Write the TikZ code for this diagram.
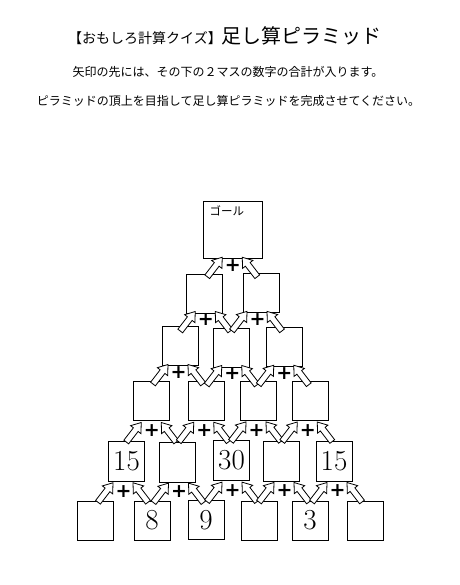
\documentclass[tikz,border=0pt]{standalone}
\usepackage{fontspec}
\usetikzlibrary{calc}
\newfontfamily\jp{Noto Sans CJK JP}
\newfontfamily\plusfont{DejaVu Sans}
\tikzset{
  box/.style={draw, line width=1pt, inner sep=0pt, minimum width=36pt, minimum height=39pt, fill=white},
  goalbox/.style={box, minimum width=59pt, minimum height=57pt},
  plusmark/.style={inner sep=0pt, font=\plusfont\bfseries\fontsize{19}{19}\selectfont},
  arr/.style={draw, line width=0.8pt, fill=white, line join=miter},
  num/.style={font=\fontsize{29}{29}\selectfont},
  jptext/.style={inner sep=0pt, font=\jp\fontsize{12}{12}\selectfont}
}
\newcommand\barrow[2]{%
  \coordinate (hb) at ($(#2)!9pt!(#1)$);
  \draw[arr] ($(#1)!3pt!90:(#2)$) -- ($(hb)!3pt!90:(#2)$) -- ($(hb)!6.5pt!90:(#2)$) -- (#2)
     -- ($(hb)!6.5pt!-90:(#2)$) -- ($(hb)!3pt!-90:(#2)$) -- ($(#1)!3pt!-90:(#2)$) -- cycle;
}
\newcommand\pyrjoin[4]{%
  \coordinate (g#4) at ($(#2.north east)!0.5!(#3.north west)$);
  \coordinate (t#4a) at ($(g#4 |- #1.south)!0.5!(g#4)+(-25.5,11)$);
  \coordinate (h#4a) at ($(g#4 |- #1.south)!0.5!(g#4)+(-10.5,-8.5)$);
  \coordinate (t#4b) at ($(g#4 |- #1.south)!0.5!(g#4)+(24.5,11)$);
  \coordinate (h#4b) at ($(g#4 |- #1.south)!0.5!(g#4)+(9.5,-8.5)$);
  \barrow{t#4a}{h#4a}
  \barrow{t#4b}{h#4b}
  \node[plusmark] (p#4) at ($(g#4 |- #1.south)!0.5!(g#4)$) {+};
}
\begin{document}
\begin{tikzpicture}[x=1pt, y=-1pt]
\useasboundingbox[fill=white] (0,0) rectangle (459,585);
% texts
\node[inner sep=0pt] (title) at (225,36) {\jp\fontsize{14}{14}\selectfont 【おもしろ計算クイズ】\fontsize{20}{20}\selectfont 足し算ピラミッド};
\node[jptext] (l1) at (228,72) {矢印の先には、その下の２マスの数字の合計が入ります。};
\node[jptext] (l2) at (228.5,100.5) {ピラミッドの頂上を目指して足し算ピラミッドを完成させてください。};
% boxes
\node[goalbox] (g) at (232.5,229.5) {};
\node[jptext, anchor=west, font=\jp\fontsize{11.5}{11.5}\selectfont] (goal) at (209.5,211) {ゴール};
\node[box] (b21) at (204.5,293.5) {};
\node[box] (b22) at (261,292.5) {};
\node[box] (b31) at (180.5,345.5) {};
\node[box] (b32) at (231,347.5) {};
\node[box] (b33) at (284,347) {};
\node[box] (b41) at (151,400.5) {};
\node[box] (b42) at (206,400.5) {};
\node[box] (b43) at (258.5,400.5) {};
\node[box] (b44) at (310,400.5) {};
\node[box, minimum height=40pt, num] (b51) at (126.5,461.5) {15};
\node[box, minimum height=40pt] (b52) at (177,462.5) {};
\node[box, minimum height=40pt, num] (b53) at (231.5,460.5) {30};
\node[box, minimum height=40pt] (b54) at (281.5,461) {};
\node[box, minimum height=40pt, num] (b55) at (334,461) {15};
\node[box] (b61) at (95,520.5) {};
\node[box, num] (b62) at (152,520.5) {8};
\node[box, num] (b63) at (206,520) {9};
\node[box] (b64) at (259,520.5) {};
\node[box, num] (b65) at (310,520.5) {3};
\node[box] (b66) at (365,520.5) {};
% joins
\pyrjoin{g}{b21}{b22}{1}
\pyrjoin{b21}{b31}{b32}{2}
\pyrjoin{b22}{b32}{b33}{3}
\pyrjoin{b31}{b41}{b42}{4}
\pyrjoin{b32}{b42}{b43}{5}
\pyrjoin{b33}{b43}{b44}{6}
\pyrjoin{b41}{b51}{b52}{7}
\pyrjoin{b42}{b52}{b53}{8}
\pyrjoin{b43}{b53}{b54}{9}
\pyrjoin{b44}{b54}{b55}{10}
\pyrjoin{b51}{b61}{b62}{11}
\pyrjoin{b52}{b62}{b63}{12}
\pyrjoin{b53}{b63}{b64}{13}
\pyrjoin{b54}{b64}{b65}{14}
\pyrjoin{b55}{b65}{b66}{15}
\end{tikzpicture}
\end{document}
